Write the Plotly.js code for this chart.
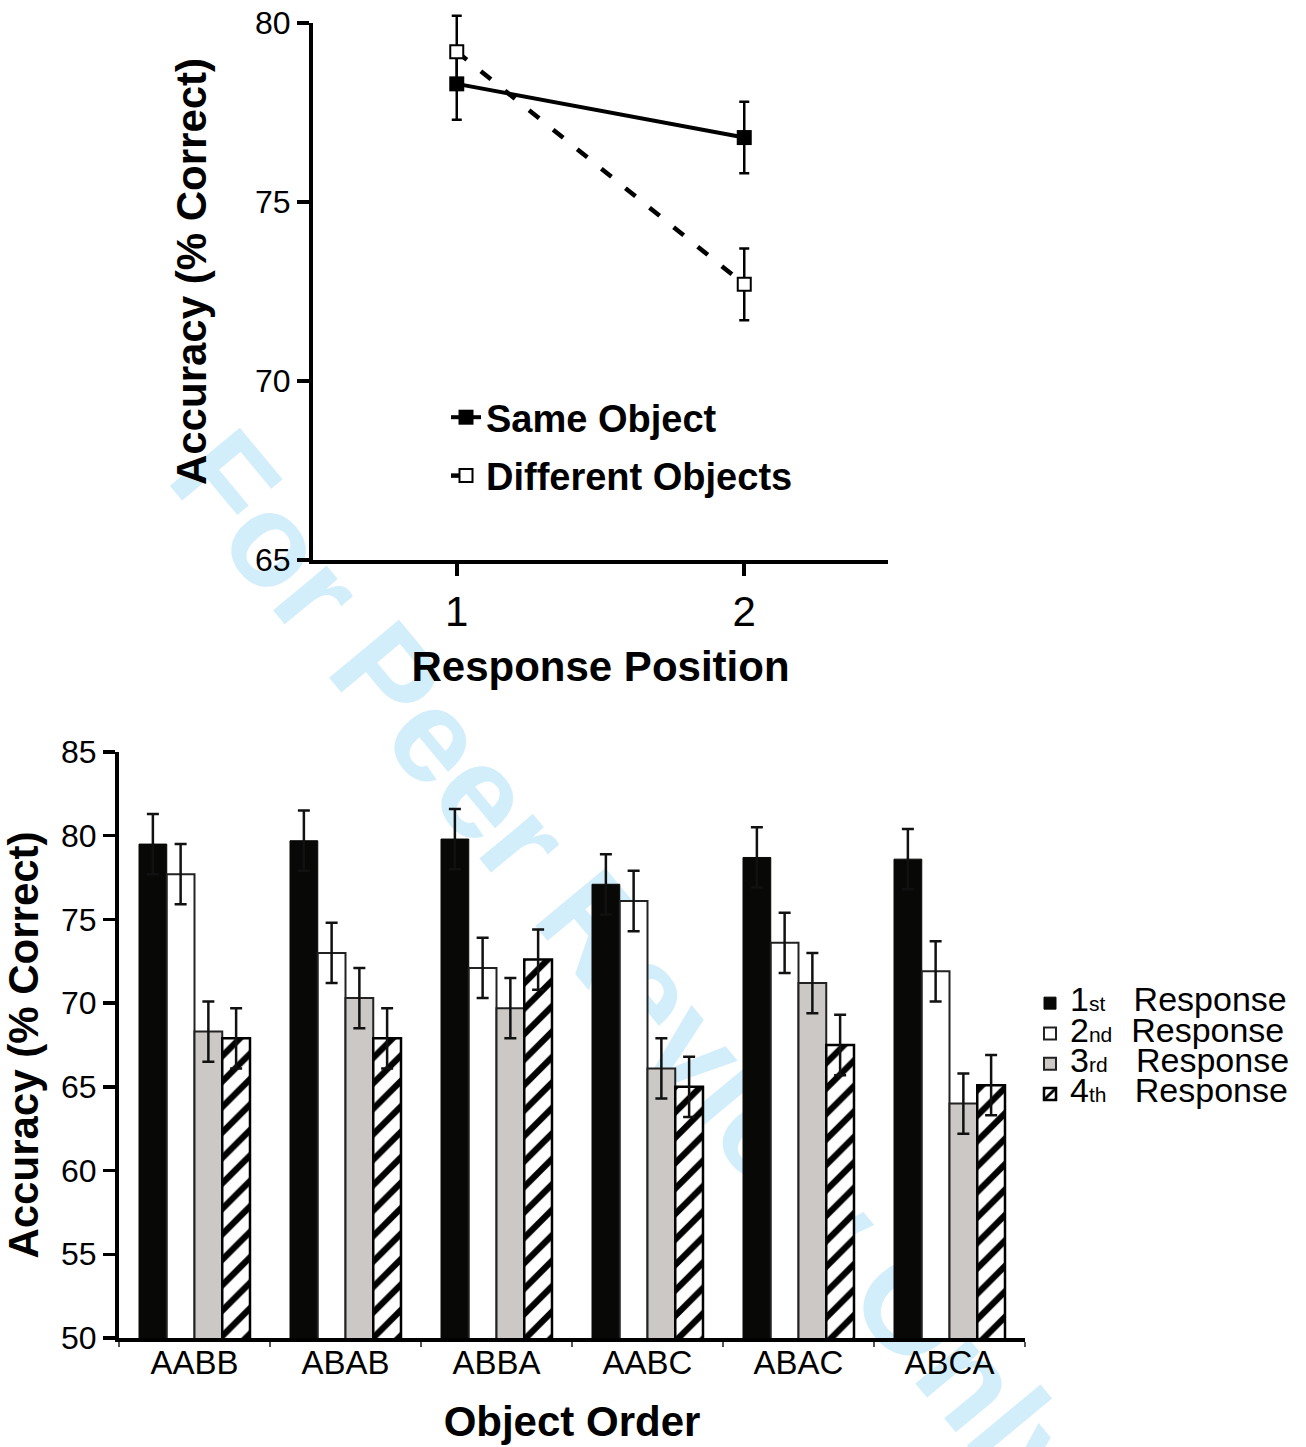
<!DOCTYPE html>
<html>
<head>
<meta charset="utf-8">
<script src="https://cdn.plot.ly/plotly-3.0.1.min.js"></script>
<style>html,body{margin:0;padding:0;background:#fff;}</style>
</head>
<body>
<div id="chart" style="width:1306px;height:1447px;"></div>
<script>
// ---- Top panel data ----
const responsePositions = [1, 2];
const positionLabels = ['1', '2'];
const sameObject = [78.3, 76.8];
const sameObjectErr = [1.0, 1.0];
const differentObjects = [79.2, 72.7];
const differentObjectsErr = [1.0, 1.0];

// ---- Bottom panel data ----
const objectOrders = ['AABB', 'ABAB', 'ABBA', 'AABC', 'ABAC', 'ABCA'];
const resp1 = [79.5, 79.7, 79.8, 77.1, 78.7, 78.6];
const resp1Err = [1.8, 1.8, 1.8, 1.8, 1.8, 1.8];
const resp2 = [77.7, 73.0, 72.1, 76.1, 73.6, 71.9];
const resp2Err = [1.8, 1.8, 1.8, 1.8, 1.8, 1.8];
const resp3 = [68.3, 70.3, 69.7, 66.1, 71.2, 64.0];
const resp3Err = [1.8, 1.8, 1.8, 1.8, 1.8, 1.8];
const resp4 = [67.9, 67.9, 72.6, 65.0, 67.5, 65.1];
const resp4Err = [1.8, 1.8, 1.8, 1.8, 1.8, 1.8];

const W = 1306, H = 1447;
const px = v => v / W;
const py = v => 1 - v / H;
const FONT = 'Liberation Sans, Arial, Helvetica, sans-serif';

function legendName(ord, suffix, gap) {
  return '<span style="font-size:34px">' + ord + '</span>' +
         '<span style="font-size:21px">' + suffix + '</span>' +
         '<span style="font-size:34px">' + gap + 'Response</span>';
}

const errTop = arr => ({type: 'data', array: arr, visible: true, color: '#000', thickness: 2.5, width: 5});
const errBar = arr => ({type: 'data', array: arr, visible: true, color: '#111', thickness: 2.5, width: 6});

const traces = [
  {
    x: responsePositions, y: sameObject, error_y: errTop(sameObjectErr),
    name: 'Same Object', type: 'scatter', mode: 'lines+markers', cliponaxis: false,
    line: {color: '#000', width: 4},
    marker: {symbol: 'square', size: 15, color: '#000'},
    xaxis: 'x', yaxis: 'y', legend: 'legend', legendgroup: 'a'
  },
  {
    x: responsePositions, y: differentObjects, error_y: errTop(differentObjectsErr),
    name: 'Different Objects', type: 'scatter', mode: 'lines+markers', cliponaxis: false,
    line: {color: '#000', width: 4.5, dash: '13px,18px'},
    marker: {symbol: 'square', size: 13, color: '#fff', line: {color: '#000', width: 2}},
    xaxis: 'x', yaxis: 'y', legend: 'legend', legendgroup: 'b'
  },
  {
    x: objectOrders, y: resp1, error_y: errBar(resp1Err), type: 'bar',
    name: legendName('1', 'st', '&nbsp;&nbsp;&nbsp;'),
    marker: {color: '#080806', line: {color: '#080806', width: 1}},
    xaxis: 'x2', yaxis: 'y2', legend: 'legend2'
  },
  {
    x: objectOrders, y: resp2, error_y: errBar(resp2Err), type: 'bar',
    name: legendName('2', 'nd', '&nbsp;&nbsp;'),
    marker: {color: '#ffffff', line: {color: '#222', width: 2}},
    xaxis: 'x2', yaxis: 'y2', legend: 'legend2'
  },
  {
    x: objectOrders, y: resp3, error_y: errBar(resp3Err), type: 'bar',
    name: legendName('3', 'rd', '&nbsp;&nbsp;&nbsp;'),
    marker: {color: '#cbc8c5', line: {color: '#222', width: 2}},
    xaxis: 'x2', yaxis: 'y2', legend: 'legend2'
  },
  {
    x: objectOrders, y: resp4, error_y: errBar(resp4Err), type: 'bar',
    name: legendName('4', 'th', '&nbsp;&nbsp;&nbsp;'),
    marker: {color: '#ffffff', line: {color: '#000', width: 2.5},
             pattern: {shape: '/', fgcolor: '#000', bgcolor: '#fff', size: 18, solidity: 0.35}},
    xaxis: 'x2', yaxis: 'y2', legend: 'legend2'
  }
];

const axisCommon = {
  showline: true, linecolor: '#000', showgrid: false, zeroline: false,
  ticks: 'outside', tickcolor: '#000', color: '#000'
};

const layout = {
  width: W, height: H,
  margin: {l: 0, r: 0, t: 0, b: 0},
  paper_bgcolor: '#fff', plot_bgcolor: 'rgba(0,0,0,0)',
  font: {family: FONT, color: '#000'},
  barmode: 'group', bargap: 0.265, bargroupgap: 0,
  xaxis: Object.assign({}, axisCommon, {
    domain: [px(313), px(888)], range: [0.5, 2.5], anchor: 'y',
    tickvals: responsePositions, ticktext: positionLabels,
    linewidth: 4, ticklen: 12, tickwidth: 4,
    tickfont: {size: 42, family: FONT}, ticklabelstandoff: 0,
    title: {text: 'Response Position', font: {size: 42, family: FONT, weight: 700}, standoff: 18}
  }),
  yaxis: Object.assign({}, axisCommon, {
    domain: [py(560), py(23)], range: [65, 80], anchor: 'x',
    tickvals: [65, 70, 75, 80],
    linewidth: 4, ticklen: 12, tickwidth: 4,
    tickfont: {size: 32, family: FONT},
    title: {text: 'Accuracy (% Correct)', font: {size: 42, family: FONT, weight: 700}, standoff: 36}
  }),
  xaxis2: Object.assign({}, axisCommon, {
    domain: [px(119), px(1025)], anchor: 'y2', type: 'category',
    categoryorder: 'array', categoryarray: objectOrders,
    tickson: 'boundaries', linewidth: 4, ticklen: 5, tickwidth: 1.5, tickcolor: '#555',
    tickfont: {size: 33, family: FONT}, ticklabelstandoff: -8,
    title: {text: 'Object Order', font: {size: 42, family: FONT, weight: 700}, standoff: 28}
  }),
  yaxis2: Object.assign({}, axisCommon, {
    domain: [py(1338), py(752)], range: [50, 85], anchor: 'x2',
    tickvals: [50, 55, 60, 65, 70, 75, 80, 85],
    linewidth: 4, ticklen: 12, tickwidth: 3.5,
    tickfont: {size: 32, family: FONT},
    title: {text: 'Accuracy (% Correct)', font: {size: 42, family: FONT, weight: 700}, standoff: 10}
  }),
  legend: {
    x: px(446), y: py(386), xanchor: 'left', yanchor: 'top',
    bgcolor: 'rgba(0,0,0,0)', borderwidth: 0,
    font: {size: 38, family: FONT, weight: 700},
    traceorder: 'grouped', tracegroupgap: 6, itemclick: false
  },
  legend2: {
    x: px(1030), y: py(983), xanchor: 'left', yanchor: 'top',
    bgcolor: 'rgba(0,0,0,0)', borderwidth: 0,
    font: {size: 21, family: FONT},
    traceorder: 'normal', tracegroupgap: 0, itemclick: false
  },
  showlegend: true,
  annotations: [
    {
      text: '<b>For Peer Review Only</b>', xref: 'paper', yref: 'paper',
      x: px(632), y: py(972), xanchor: 'center', yanchor: 'middle',
      textangle: 50.3, showarrow: false,
      font: {size: 132, family: FONT, color: '#d3eefb'}
    }
  ]
};

Plotly.newPlot('chart', traces, layout, {displayModeBar: false, staticPlot: true}).then(function (gd) {
  // place the watermark beneath the plotted marks, as in the original
  const ann = gd.querySelector('.annotation[data-index="0"]');
  const cart = gd.querySelector('.main-svg .cartesianlayer');
  if (ann && cart) cart.parentNode.insertBefore(ann, cart);
  // let the top error-bar cap extend above the axis end, as in the original
  gd.querySelectorAll('.cartesianlayer .subplot.xy, .cartesianlayer .subplot.xy *').forEach(function (el) {
    if (el.hasAttribute('clip-path')) el.removeAttribute('clip-path');
    if (el.style && el.style.clipPath) el.style.clipPath = '';
  });
  gd.querySelectorAll('.subplot.xy .errorbar').forEach(function (el) {
    el.removeAttribute('display');
    el.style.display = '';
    el.style.opacity = 1;
  });
  // raise the top y-axis title slightly, matching the original placement
  const yt = gd.querySelector('.g-ytitle');
  if (yt) yt.setAttribute('transform', 'translate(0,-20)');
});
</script>
</body>
</html>
